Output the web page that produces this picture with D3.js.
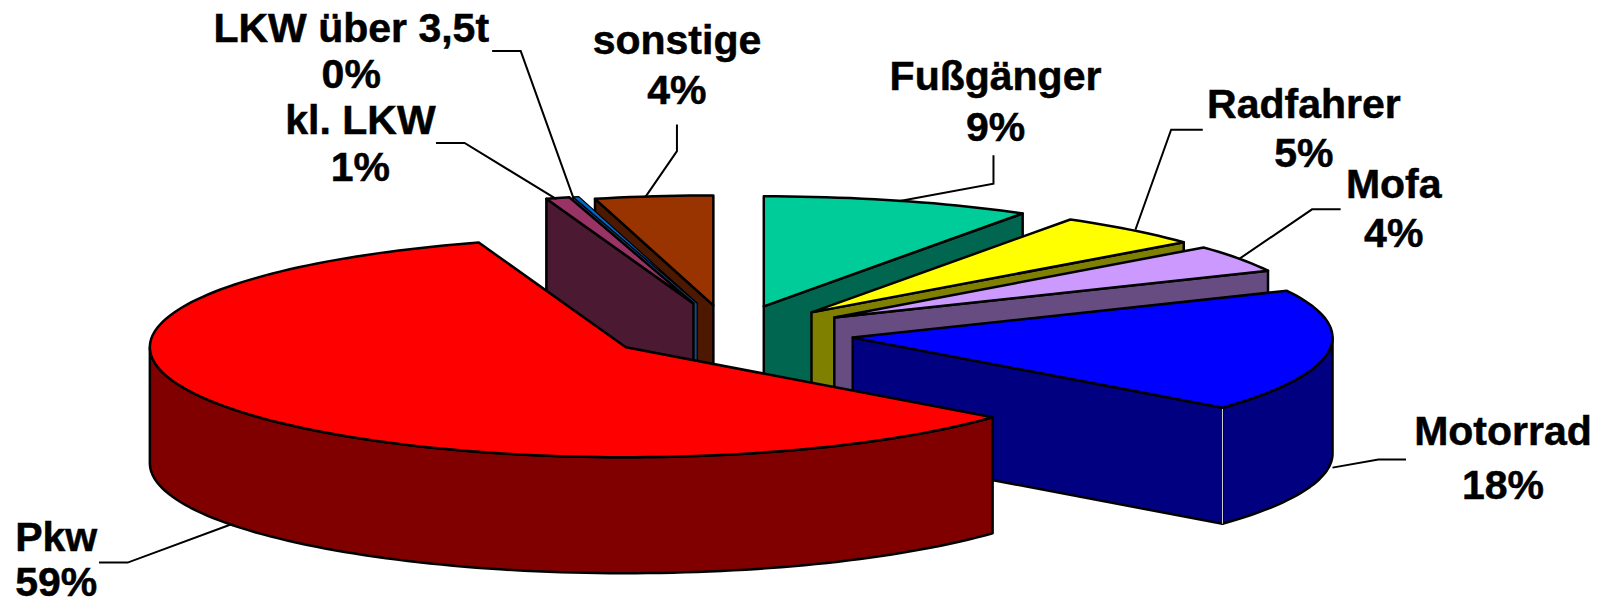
<!DOCTYPE html>
<html>
<head>
<meta charset="utf-8">
<script src="https://cdn.jsdelivr.net/npm/d3@7"></script>
<style>
	body { margin: 0; background: #fff; }
	svg { display: block; }
	text { font-family: "Liberation Sans", Arial, sans-serif; font-weight: bold; fill: #000; stroke: #000; stroke-width: 0.5px; }
</style>
</head>
<body>
<div id="plot"></div>
<script>
// Data, clockwise from 12 o'clock.
var categories = ["Fußgänger", "Radfahrer", "Mofa", "Motorrad", "Pkw", "kl. LKW", "LKW über 3,5t", "sonstige"];
var shares = [9, 5, 4, 18, 59, 0.8, 0.2, 4];

// Colours: top face and side face.
var topColors = ["#00CC99", "#FFFF00", "#CC99FF", "#0000FF", "#FF0000", "#993366", "#0066CC", "#993300"];
var sideColors = ["#006650", "#808000", "#664C80", "#000080", "#800000", "#4C1933", "#1A4A80", "#4C1900"];

// Back to front.
var drawOrder = ["sonstige", "LKW über 3,5t", "kl. LKW", "Fußgänger", "Radfahrer", "Mofa", "Motorrad", "Pkw"];

var width = 1601, height = 604;
var k = 1601 / 1568; // label positions were measured on the shrunk picture

// Pie geometry
var cx = 729, cy = 331, rx = 476, ry = 110, depth = 116, explode = 0.262;

// Hand adjustments, the original has some perspective: [dy in pixels, stretch of x radius].
var nudge = {
	"sonstige": [3, 1],
	"Fußgänger": [3, 1.015],
	"Radfahrer": [3, 1.015],
	"Mofa": [2, 1.007],
	"Motorrad": [3, 1.008]
};

var x = d3.scaleLinear().domain([-1, 1]).range([cx - rx, cx + rx]);
var y = d3.scaleLinear().domain([-1, 1]).range([cy - ry, cy + ry]);

var svg = d3.select("#plot").append("svg")
	.attr("width", width)
	.attr("height", height);

var arcs = d3.pie().value(function(d){ return d; }).sort(null)(shares);

var line = d3.line();
function closed(pts) { return line(pts) + "Z"; }

// Point on the ellipse of a slice, r=0 is the tip of the slice.
function project(a, r, off, dz) {
	return [
		x(Math.sin(a) * r * off[3] + off[0]),
		y(-Math.cos(a) * r + off[1]) + off[2] + (dz || 0)
	];
}

function outerAngles(a0, a1) {
	var step = Math.PI / 120;
	var n = Math.max(1, Math.ceil((a1 - a0) / step));
	return d3.range(n + 1).map(function(i){ return a0 + (a1 - a0) * i / n; });
}

var slices = svg.append("g");

drawOrder.forEach(function(name) {
	var i = categories.indexOf(name);
	var a = arcs[i];
	var mid = (a.startAngle + a.endAngle) / 2;
	var n = nudge[name] || [0, 1];
	var off = [Math.sin(mid) * explode, -Math.cos(mid) * explode, n[0], n[1]];
	var strokeW = name === "LKW über 3,5t" ? 1.2 : 2.5; // sliver would turn black otherwise
	var g = slices.append("g").attr("class", "slice");

	// Cut faces, only the one turned to the viewer.
	[[a.startAngle, -1], [a.endAngle, 1]].forEach(function(e) {
		var edge = e[0];
		if (Math.sin(edge) * e[1] <= 1e-6) return;
		g.append("path")
			.attr("d", closed([
				project(edge, 0, off), project(edge, 1, off),
				project(edge, 1, off, depth), project(edge, 0, off, depth)
			]))
			.attr("fill", sideColors[i])
			.attr("stroke", "#000")
			.attr("stroke-width", strokeW)
			.attr("stroke-linejoin", "round");
	});

	// Outer rim, only the part that faces the viewer.
	var r0 = Math.max(a.startAngle, Math.PI / 2);
	var r1 = Math.min(a.endAngle, Math.PI * 1.5);
	if (r1 > r0) {
		var angles = outerAngles(r0, r1);
		var rim = angles.map(function(t){ return project(t, 1, off); })
			.concat(angles.slice().reverse().map(function(t){ return project(t, 1, off, depth); }));
		g.append("path")
			.attr("d", closed(rim))
			.attr("fill", sideColors[i])
			.attr("stroke", "#000")
			.attr("stroke-width", strokeW)
			.attr("stroke-linejoin", "round");
	}

	// Light seam at the front corner of the Motorrad slice.
	if (name === "Motorrad") {
		var p0 = project(a.endAngle, 1, off), p1 = project(a.endAngle, 1, off, depth);
		g.append("path")
			.attr("d", line([p0, p1]))
			.attr("stroke", "#ddd")
			.attr("stroke-width", 1);
	}

	// Top face.
	var top = [project(0, 0, off)].concat(outerAngles(a.startAngle, a.endAngle).map(function(t){
		return project(t, 1, off);
	}));
	g.append("path")
		.attr("d", closed(top))
		.attr("fill", topColors[i])
		.attr("stroke", "#000")
		.attr("stroke-width", strokeW)
		.attr("stroke-linejoin", "round");
});

// Label layout, by category: centre x, baseline of name and of percent, leader line.
var labelLayout = {
	"LKW über 3,5t": {x: 344, y1: 41, y2: 86.5, leader: [[482, 50], [510, 50], [562, 195]]},
	"kl. LKW": {x: 353, y1: 131.5, y2: 177, leader: [[427, 140], [455, 140], [545, 195]]},
	"sonstige": {x: 663, y1: 53, y2: 102, leader: [[663, 122], [663, 148], [632, 193]]},
	"Fußgänger": {x: 975, y1: 88, y2: 138, leader: [[973, 152], [973, 180], [880, 197]]},
	"Radfahrer": {x: 1277, y1: 116, y2: 164, leader: [[1178, 127], [1147, 127], [1112, 225]]},
	"Mofa": {x: 1365, y1: 194, y2: 242, leader: [[1313, 205], [1285, 205], [1213, 254]]},
	"Motorrad": {x: 1472, y1: 436, y2: 489, leader: [[1377, 450], [1350, 450], [1305, 458]]},
	"Pkw": {x: 55, y1: 540, y2: 584, leader: [[97, 551], [125, 551], [228, 513]]}
};

var labels = svg.append("g");

categories.forEach(function(name, i) {
	var l = labelLayout[name];
	labels.append("path")
		.attr("d", line(l.leader.map(function(p){ return [p[0] * k, p[1] * k]; })))
		.attr("fill", "none")
		.attr("stroke", "#000")
		.attr("stroke-width", 2);
	labels.append("text")
		.attr("x", l.x * k)
		.attr("y", l.y1 * k)
		.attr("text-anchor", "middle")
		.style("font-size", "41px")
		.text(name);
	labels.append("text")
		.attr("x", l.x * k)
		.attr("y", l.y2 * k)
		.attr("text-anchor", "middle")
		.style("font-size", "41px")
		.text(Math.round(shares[i]) + "%");
});
</script>
</body>
</html>
